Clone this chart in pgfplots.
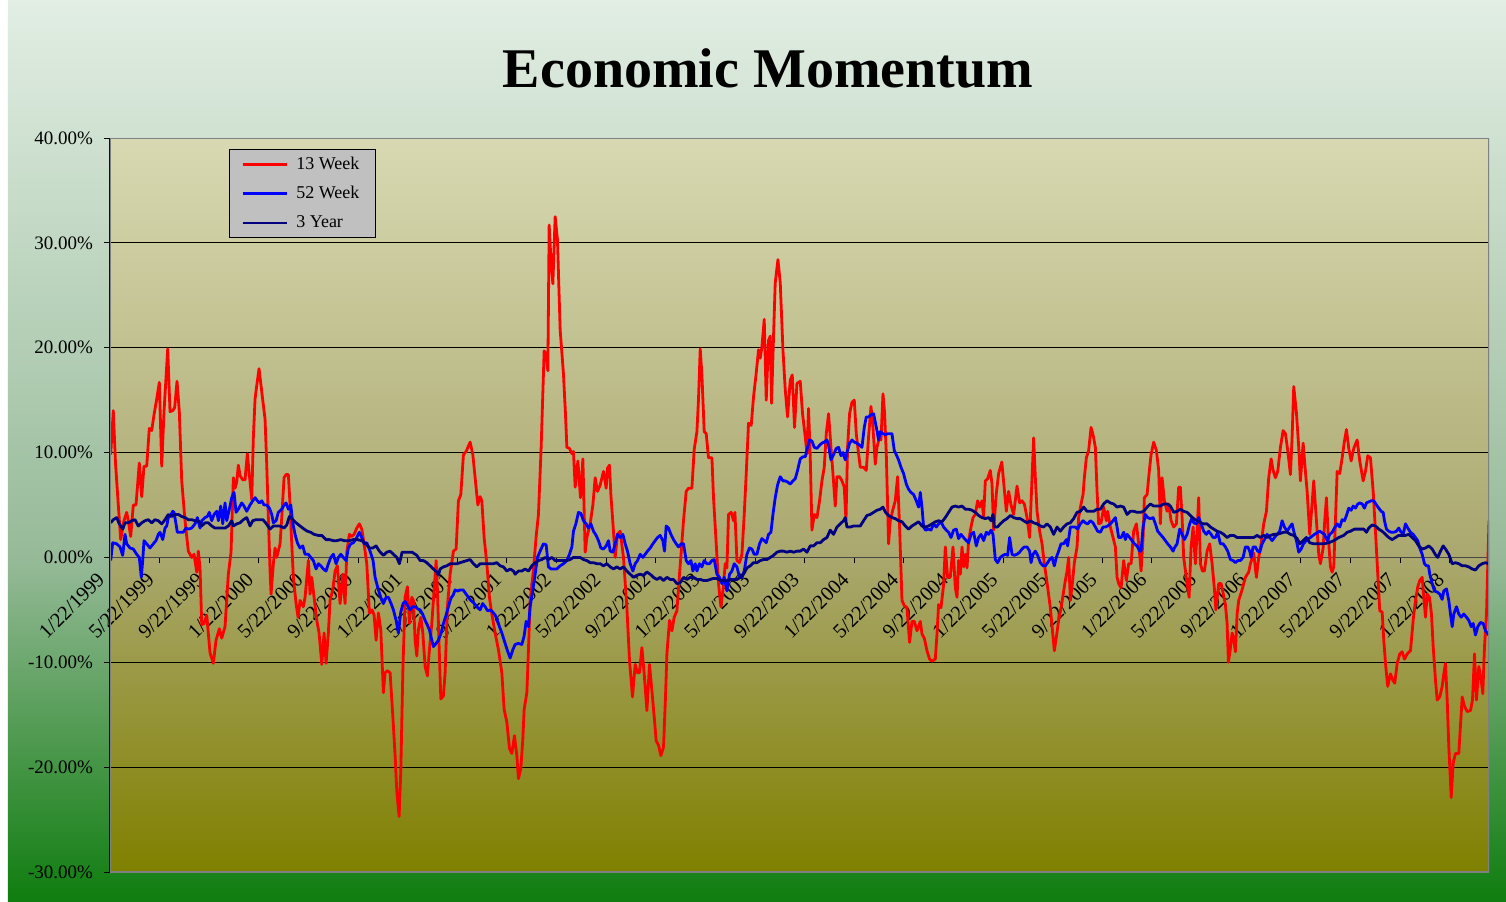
\documentclass[border=0pt]{standalone}
\usepackage{fontspec}
\setmainfont{Liberation Serif}
\usepackage{pgfplots}
\usepackage{pgfplotstable}
\pgfplotsset{compat=1.18}

\definecolor{bgtop}{RGB}{226,238,228}
\definecolor{bgmid}{RGB}{150,186,152}
\definecolor{bgbot}{RGB}{15,125,15}
\definecolor{patop}{RGB}{216,217,178}
\definecolor{pamid}{RGB}{170,168,110}
\definecolor{pabot}{RGB}{128,128,0}
\definecolor{legfill}{RGB}{192,192,192}
\definecolor{navyline}{RGB}{0,0,128}

\pgfdeclareverticalshading{outerbg}{100bp}{color(0bp)=(bgbot); color(25bp)=(bgbot); color(44bp)=(bgmid); color(75bp)=(bgtop); color(100bp)=(bgtop)}
\pgfdeclareverticalshading{plotbg}{100bp}{color(0bp)=(pabot); color(25bp)=(pabot); color(46.5bp)=(pamid); color(75bp)=(patop); color(100bp)=(patop)}

% x = position along the time axis (1/22/1999 = 110, one 4-month step = 49.6)
\pgfplotstableread{
x y
110.7 9.8
113.3 14.0
115.5 9.0
118.3 5.0
120.7 1.7
124 3.5
126.7 4.3
128.3 3.5
130.7 2.0
133.3 5.0
136 5.0
139.3 9.0
141.7 5.8
144 8.7
146.7 8.7
149.3 12.3
151.7 12.1
154 13.6
156.7 15.1
159.3 16.7
161.7 8.7
164 13.9
167.7 19.9
170 13.9
172.7 14.0
174.7 14.3
177 16.8
179.3 13.9
181.7 7.3
185 3.5
188.3 0.6
191.7 0.0
194 0.3
196.7 -1.4
198.3 0.6
200 -1.0
201.7 -6.4
204 -6.3
206.7 -5.5
210 -9.1
213.3 -10.1
216 -7.9
219.3 -6.8
221.7 -7.7
225 -6.6
228.3 -1.6
231 0.5
233.3 7.6
235 6.6
236.7 7.2
238.3 8.8
240 7.8
242.7 7.4
245 7.4
247.3 9.9
249 8.2
251.7 5.5
253.3 11.4
255 15.1
256.7 16.4
259 18.0
261.7 15.8
265 13.2
266.7 8.8
268.3 3.8
270 -1.3
271 -3.5
273.3 -0.6
275 0.9
276.7 0
280 1.3
281.7 3.8
284 7.6
286 7.9
288.3 7.9
290 5.0
291.7 1.3
293.3 -1.9
296 -4.4
298 -5.7
300 -4.1
303.3 -4.7
305 -3.8
308.3 -0.3
310 -3.5
311.7 -1.9
314 -3.8
316.7 -6.0
319 -7.2
321.7 -10.2
324 -7.2
326 -10.1
328.3 -7.2
330 -4.1
332.7 -3.1
335 -1.3
337.3 -0.8
340 -4.4
342.7 -1.6
345 -4.4
346.7 0.5
349.3 2.2
351.7 2.0
354 2.2
356.7 2.8
359.3 3.2
361.7 2.7
364 1.3
366.7 -0.6
369.3 -5.3
372 -5.0
374 -5.5
376 -7.9
378.3 -5.3
380.7 -6.9
383.3 -12.9
385 -11.0
387.3 -10.8
390 -11.0
392.7 -15.1
395 -18.9
396.7 -22.3
399 -24.7
400.7 -20.4
402.7 -11.0
405 -3.8
407.3 -2.8
409.3 -6.3
411.7 -3.8
413.3 -4.1
415 -7.9
416.7 -9.4
418.3 -6.9
420.7 -5.7
422.7 -7.2
425 -10.4
427.3 -11.3
429.3 -8.8
431.7 -6.3
434 -3.1
436 -0.3
437.3 -3.1
439.3 -9.4
440.7 -13.5
443.3 -13.2
445 -11.0
447.3 -4.7
450 -1.6
453.3 0.6
456 0.8
458.3 5.4
460.7 6.0
463.3 9.8
466 10.1
470 11.0
472.7 9.8
475 7.6
477.7 5.0
480 5.8
481.7 5.4
484 1.9
486.7 -0.6
489.3 -3.8
491.7 -5.4
495 -7.2
498.3 -8.8
501.7 -11.0
504 -14.5
506.7 -15.7
509.3 -18.2
511.7 -18.7
514.3 -17.0
516.7 -18.9
518.3 -21.1
520.7 -20.1
522.7 -17.3
524 -14.5
526.7 -12.9
528.3 -8.8
530 -4.1
533 -1.5
536 2.0
538.3 4.1
541 10.5
544 19.7
546 19.4
547.7 17.8
549 31.7
551 28.0
552.7 26.1
555 32.5
557.3 30.3
560 21.7
563.3 17.5
565.3 13.7
566.7 10.5
569.3 10.4
571.7 9.9
573.3 10.1
575 6.7
577.7 9.2
580.3 5.7
582.7 9.4
585 0.5
586.7 1.9
590 3.2
592.7 5.0
595 7.6
597.3 6.3
600 6.9
603.3 8.2
606 6.6
607.3 8.5
609.3 8.8
610.7 6.0
613.3 2.5
615 0.0
617.3 2.2
620 2.5
623.3 0.0
626.7 -4.8
629.3 -9.8
632.3 -13.3
635 -10.2
637.3 -11.0
639.3 -11.0
641.7 -8.6
644 -11.1
646.7 -14.6
649.3 -10.2
651.7 -12.7
654 -15.2
656 -17.5
658.3 -17.9
660.7 -18.9
663.3 -18.1
665.3 -13.3
666.7 -9.2
669.3 -6.0
671.7 -7.0
674 -5.7
676.7 -5.1
679.3 -1.6
681 0.5
683.3 3.5
686 6.3
688.3 6.6
691.7 6.6
694 10.3
696.7 12.0
698.3 15.1
700 19.9
701.7 17.4
704 12.0
706 11.8
708.3 9.5
711.7 9.5
713.3 5.7
716 1.3
718.3 -2.5
720.7 -4.7
722.7 -3.2
725 -0.6
726.7 -1.0
728.3 4.1
731 4.3
733.3 3.5
734.7 4.3
736.7 -0.3
739.3 -0.5
741.7 0.3
744 4.1
746 8.0
748.3 12.8
751 12.6
753.3 15.3
756 17.6
758.3 19.8
760 19.0
761.7 20.1
764 22.7
766 15.0
768.3 20.7
770 21.1
771.3 14.7
773.3 21.1
775 26.2
777.7 28.4
780 26.2
782.7 19.8
785 16.0
787.3 13.4
790 16.9
792 17.4
794.3 12.4
796.7 16.6
800 16.8
802.3 13.7
805 11.5
806.7 9.9
808.3 14.2
810 9.6
811.7 2.6
814 4.1
816.7 3.8
819.3 5.4
821.7 7.3
824 8.6
826 11.8
828.3 13.7
830.7 10.5
832.7 8.0
835 4.9
836.7 7.7
839.3 7.7
841.7 7.3
844 6.7
845.7 3.5
847.3 10.5
849.3 13.7
851.7 14.8
854 15.0
856 11.8
858.3 9.9
860 8.6
863.3 8.6
866 8.3
868.3 11.5
870.7 14.4
872.7 12.4
875 8.9
876.7 10.5
879.3 11.5
880.7 11.2
882.7 15.6
884.3 13.8
886 9.9
888.3 1.3
890 3.5
892.7 4.6
895 5.4
897.3 7.7
899.3 2.9
901.7 -4.1
904 -4.6
906.7 -4.8
909.3 -8.1
911.7 -6.1
914 -6.1
916.7 -7.0
920 -6.1
921.7 -7.3
924 -7.7
926.7 -8.9
929.3 -9.7
931.7 -9.9
935 -9.7
936.7 -7.3
938.3 -4.5
940.7 -4.8
943.3 -2.6
945 1.0
947.3 -1.9
950 -1.9
952.7 1.0
955 -2.9
956.7 -3.8
958.3 -0.3
960 -1.6
961.7 1.0
963.3 -0.9
965 0.3
966.7 -1.0
968.3 1.6
970.7 2.9
972.7 3.8
975 4.1
977.3 5.4
979.3 4.8
981.7 5.4
983.3 3.8
985 7.3
987.3 7.5
990 8.3
991.7 7.0
993.3 2.6
996 6.1
998.3 8.0
1001.5 9.1
1006 4.4
1008.3 6.3
1010.7 5.0
1013.3 4.1
1016.7 6.8
1019.3 5.2
1021.7 5.4
1024 5.1
1026.7 3.8
1029.3 1.9
1031.7 7.6
1033.3 11.4
1035 7.6
1036.7 4.4
1039.3 2.5
1041.7 1.3
1044 -0.6
1046.7 -2.4
1050 -4.8
1052.7 -7.6
1054 -8.9
1056.3 -7.4
1058.3 -6.0
1060.7 -4.8
1062.7 -3.6
1065 -2.2
1066.7 -1.3
1068.3 0.0
1070 -4.1
1072 -2.5
1074 -0.5
1076.7 1.0
1078.3 3.8
1080.7 5.1
1082.7 6.0
1084 7.6
1086 9.5
1088.3 10.2
1090.7 12.4
1092.7 11.7
1095 10.5
1096.7 6.3
1098.3 3.2
1100.7 3.3
1103.3 4.8
1106 3.5
1107.3 4.4
1110 2.9
1112.7 1.9
1115 1.0
1116.7 -1.9
1118.3 -2.5
1120.7 -2.9
1123.3 -0.3
1126 -2.2
1128.3 -0.6
1130.7 -0.6
1133.3 2.5
1136 3.2
1138.3 1.3
1140.7 -1.3
1142.7 1.9
1144 5.7
1146.7 6.0
1149 8.3
1150.7 9.8
1153.3 11.0
1156 10.2
1158.3 8.3
1160 3.2
1161.7 7.6
1164 5.4
1166.7 4.4
1168.3 5.1
1170.7 3.5
1173.3 2.9
1176 3.2
1178.3 6.7
1180 6.7
1181.7 3.8
1183.3 0.0
1186 -2.0
1188.7 -3.8
1190.7 1.0
1192.7 2.9
1195 -0.6
1196.7 2.5
1198.3 5.7
1200 -0.6
1202 -1.3
1204 -1.3
1206.7 0.6
1209.3 1.3
1211.7 -0.6
1214 -3.0
1215.5 -5.0
1218.3 -2.5
1220.7 -2.5
1222.7 -3.4
1225 -4.5
1226.7 -6.3
1228 -10.0
1229.7 -8.9
1231.7 -7.2
1233.3 -7.8
1235 -9.0
1236.7 -5.4
1238.3 -4.1
1241 -3.3
1243.3 -2.5
1245 -1.9
1248.3 -1.4
1250 -0.6
1253.3 0.4
1256 -1.9
1258.3 0.0
1260.7 1.3
1263.3 3.2
1266 4.4
1268.3 7.6
1270.7 9.4
1272.7 8.3
1275 7.6
1277.3 8.2
1280 10.5
1282.7 12.1
1285 11.8
1287.3 10.2
1290 7.9
1291.7 11.5
1293.3 16.3
1296 13.8
1298.3 10.5
1300 7.3
1302.7 10.9
1304.7 8.5
1306.7 6.3
1309.3 2.2
1311.3 4.7
1313.3 7.3
1316 3.5
1318.3 0.3
1320 -0.6
1322.7 0.9
1324.3 3.5
1326 5.7
1327.7 2.2
1330 -0.9
1331.7 -1.4
1333.3 -0.9
1335 3.5
1336.7 8.2
1339.3 8.0
1341.7 9.5
1344 11.1
1346 12.2
1348.3 10.4
1350.7 9.2
1353.3 10.4
1356.7 11.2
1359.3 9.2
1362.7 7.3
1365 8.2
1367.3 9.7
1370 9.5
1372.7 6.3
1375 2.5
1377.3 -1.6
1379.3 -5.1
1381.7 -5.2
1383.3 -7.9
1385.3 -10.4
1387.3 -12.3
1390 -11.1
1392.3 -11.7
1394.3 -12.0
1396.7 -10.1
1399.3 -9.2
1401.7 -9.0
1404 -9.7
1406.7 -9.2
1410 -8.9
1412.7 -6.0
1415 -4.1
1417.3 -2.8
1419.3 -2.2
1421.7 -1.9
1423.3 -3.8
1425 -5.7
1426.7 -3.5
1429 -3.8
1431 -5.4
1432.7 -8.5
1435 -11.7
1436.7 -13.6
1439.3 -13.3
1441.7 -12.3
1443.3 -11.1
1445 -10.1
1446.7 -13.6
1448.3 -18.0
1450.7 -22.9
1452.7 -19.6
1455 -18.7
1458.3 -18.7
1461.7 -13.3
1464 -14.2
1466.7 -14.7
1470 -14.6
1472 -13.6
1474 -9.2
1476 -13.6
1478.3 -10.4
1480.7 -11.7
1482.3 -13.0
1484 -8.5
1486 -5.4
1487.3 -0.6
1488.5 3.5
}\redtab

\pgfplotstableread{
x y
110.7 -0.3
112.7 1.4
116.7 1.3
120 1.0
122.7 0.2
125 2.2
126.7 1.3
130 0.9
133.3 0.8
136.7 0.3
139.3 0.0
141.3 -1.9
142.7 -0.3
144 1.6
146.7 1.3
150 0.9
153.3 1.3
156 1.6
158.3 2.2
160 2.4
162.7 1.7
165 2.8
166.7 3.0
168.3 3.8
170.7 4.0
172.7 4.4
174 4.3
176 3.2
177.3 2.4
180 2.4
183.3 2.4
186 2.8
188.3 2.7
191.7 2.8
195 3.2
197.3 3.8
200 2.8
201.7 3.5
205 3.8
207.3 3.9
209.3 4.3
211.7 3.5
214 4.1
216.7 4.4
218.3 3.5
220.7 4.9
222.7 3.2
225 5.2
226.7 3.5
230 4.9
231.7 5.7
234 6.2
236 4.3
238.3 4.6
241.7 5.2
244 4.9
246.7 4.4
250 5.0
252.7 5.4
255 5.7
257.3 5.4
259.3 5.2
261.7 5.4
264 5.0
266.7 5.0
269.3 4.7
271.7 4.1
273.3 3.3
276 3.5
278.3 4.3
281.7 4.6
284 5.0
286 5.2
288.3 4.6
290.7 5.0
292.7 3.3
295 2.2
297.3 1.4
300 0.9
302.7 1.1
305 0.3
308.3 0.3
310.7 0.0
313.3 -0.3
316 -1.1
318.3 -0.6
320.7 -0.8
323.3 -1.1
326 -1.3
328.3 -0.6
330.7 0.0
333.3 0.3
336 -0.6
338.3 0.0
340.7 0.3
343.3 0.0
346 -0.3
348.3 0.9
350.7 1.3
353.3 1.4
356.7 1.9
359.3 2.4
361.7 1.9
364 1.3
366.7 1.4
370 0.6
373 -0.3
375 -1.9
378.3 -3.1
381.7 -4.1
383.3 -4.4
386 -3.8
388.3 -3.8
391 -4.4
393.3 -5.0
396 -6.0
398.3 -7.2
400.7 -5.2
403 -4.4
405 -4.2
407.5 -4.6
410 -5.0
412.5 -4.7
415 -4.7
417.5 -4.9
420 -5.0
422.5 -5.4
425 -6.0
427.5 -6.5
429.3 -6.9
431.7 -7.9
433.3 -8.5
436 -8.2
438.3 -7.9
441 -7.2
443.3 -6.3
446 -5.5
448.3 -4.7
450.7 -3.9
453 -3.6
455 -3.1
457.5 -3.2
460 -3.1
463 -3.1
466 -3.5
468.3 -3.8
470.7 -4.1
473.3 -4.3
476.7 -4.7
480 -5.0
482.5 -4.4
485 -4.7
487.5 -5.1
490 -5.0
492.5 -5.2
495 -5.5
497.3 -6.0
499.3 -6.6
501.7 -7.2
504 -7.9
507 -8.8
510 -9.6
512.7 -8.8
515 -8.3
518.3 -8.2
521.7 -8.3
524 -7.5
526 -6.1
528.3 -6.6
530 -4.7
532.7 -3.1
535 -1.6
537.3 0.0
540 0.6
543.3 1.3
546 1.2
548.3 -0.9
551 -1.1
554 -1.1
556.7 -1.1
560 -0.8
563.3 -0.6
566.7 -0.3
569.3 0.3
571.7 1.0
573.3 2.5
575.7 3.2
578.3 4.3
580.7 4.2
583.3 3.5
586 3.2
588.3 2.8
590.7 3.2
593.3 2.5
596 2.1
598.3 1.6
600.7 0.9
603.3 0.8
606 1.1
608.3 1.6
610 0.6
612.7 0.5
615 1.3
617.3 2.2
620 1.9
622.7 2.2
625 1.3
627.3 0.6
630 -0.6
632.7 -1.3
635 -0.6
637.3 -0.3
640 0.3
642.7 0.0
645 0.3
647.3 0.6
650 0.9
652.7 1.3
655 1.6
657.3 1.9
660 2.1
662.7 1.6
664.3 0.6
666 3.0
668.3 2.8
670.7 2.2
673.3 1.7
676 1.3
678.3 1.0
681 1.3
683.3 1.3
686 -0.3
688.3 -0.6
690.7 -0.3
692.7 -1.3
695 -0.6
696.7 -1.3
699.3 -0.6
701.7 -0.9
704 -0.3
706.7 -0.6
709.3 -0.6
711.7 -0.3
714 -0.2
716.7 -1.6
719.3 -1.9
721.7 -2.5
724 -1.9
726.7 -3.2
729.3 -1.6
731.7 -1.3
734 -0.6
736.7 -0.9
739.3 -1.9
741.7 -1.9
744 -1.3
746.7 0.3
749.3 0.9
751.7 0.8
754 0.3
756.7 0.3
759.3 1.3
761.7 1.8
764 1.6
766 1.4
768.3 2.2
770.7 2.4
772.7 4.1
775 5.7
777.3 6.9
780 7.7
782.7 7.3
785 7.3
787.3 7.2
790 7.0
792.7 7.3
795 7.5
797.3 8.3
800 9.4
802.7 9.6
805 9.6
807.3 10.5
809.3 11.2
811.7 11.1
814 10.5
816.7 10.4
819.3 10.7
821.7 10.9
824 11.0
826.7 11.2
828.3 10.7
830.7 9.3
833.3 9.8
836 10.4
838.3 10.5
840.7 9.7
842.7 10.0
845 9.3
846.7 10.0
849.3 10.9
851.7 11.2
854 11.0
856.7 10.9
859.3 10.7
861.7 10.5
864 12.4
866 13.4
868.3 13.4
870.7 13.6
873.3 13.7
875 12.9
876.7 12.1
878.3 11.2
880 12.0
882.7 11.8
885 11.7
887.3 11.8
890 11.8
891.7 11.8
894 10.2
896 9.8
898.3 9.3
900.7 8.6
903.3 8.0
906 7.0
908.3 6.5
910.7 6.2
913.3 6.0
916 5.4
918.3 4.8
920 6.2
921.7 4.8
923.3 2.9
925.3 2.6
928.3 2.7
930.7 2.6
933.3 3.2
936 2.9
938.3 3.2
940.7 3.4
943.3 2.9
946 2.6
948.3 2.4
950.7 1.9
953.3 2.6
956 2.7
958.3 1.8
960.7 2.2
963.3 1.9
966 1.6
968.3 1.4
970.7 2.2
973.3 2.4
976 1.1
978.3 1.9
980.7 2.2
983.3 1.6
986 2.4
988.3 2.2
990.7 2.6
992.7 2.2
995 -0.2
997.3 -0.5
1000 0.0
1002.7 0.2
1005 0.3
1007.3 0.2
1009.3 1.9
1011.7 0.3
1014 0.2
1016.7 0.3
1019.3 0.5
1021.7 0.8
1024 1.0
1026.7 1.0
1029.3 0.6
1030.7 -0.5
1032.7 0.3
1035 0.6
1037.3 0.2
1040 -0.5
1042.7 -0.8
1045 -0.8
1047.3 -0.5
1049.3 -0.2
1051.7 0.0
1054 -0.8
1056 0.0
1058.3 0.6
1060.7 1.3
1063.3 1.3
1066 1.7
1067.3 1.1
1070 2.9
1072.7 2.9
1075 2.9
1077.3 2.7
1080 3.2
1082.7 3.5
1085 3.3
1087.3 3.2
1090 3.5
1092.7 3.3
1095 2.9
1097.3 2.5
1100 2.4
1102.7 2.9
1105 2.9
1107.3 3.0
1110 3.2
1112.7 3.5
1115 3.8
1116.7 2.9
1118.3 1.9
1120.7 1.9
1123.3 2.4
1125 1.7
1126.7 2.2
1129.3 1.9
1131.7 1.6
1134 1.3
1136.7 1.1
1139.3 0.6
1140.7 0.6
1142.7 2.9
1145 4.1
1147.3 3.8
1150 3.7
1152.7 3.8
1155 3.2
1157.3 2.5
1160 2.2
1162.7 1.9
1165 1.6
1167.3 1.3
1170 1.0
1172.7 0.6
1174 0.9
1176.7 1.3
1179.3 2.7
1181.7 2.2
1184 1.7
1186.7 2.2
1189.3 3.2
1191.7 3.8
1193.3 3.3
1196 3.2
1198.3 3.8
1200.7 3.2
1203.3 2.5
1206 2.2
1208.3 2.5
1210.7 2.2
1212.7 1.9
1215 1.9
1217.3 2.4
1220 1.3
1222.7 1.3
1225 1.0
1227.3 0.6
1230 -0.2
1232.7 -0.3
1235 -0.5
1237.3 -0.3
1240 -0.3
1242.7 0.0
1245 1.0
1247.3 1.0
1249.3 0.6
1250.7 0.0
1252.7 1.0
1255 1.0
1257.3 0.6
1259.3 0.5
1261.7 1.3
1264 1.7
1266.7 2.2
1269.3 1.9
1271.7 1.6
1274 1.9
1276.7 2.2
1279.3 2.5
1281.7 3.5
1284 2.9
1286.7 2.5
1289.3 2.9
1291.7 3.2
1293.3 2.5
1296 1.6
1298.3 0.5
1300.7 0.8
1303 1.3
1306.7 1.7
1310 1.9
1314 2.2
1319.3 2.5
1324 2.2
1326.7 1.6
1329.3 2.2
1331.7 2.4
1334 2.8
1336.7 3.2
1339.3 2.9
1341.7 3.6
1344 3.5
1346 4.0
1348.3 4.7
1350.7 4.5
1352.7 4.9
1355 4.7
1357.3 5.1
1359.3 5.2
1361.7 5.1
1364 4.7
1366 5.2
1368.3 5.3
1370.7 5.4
1373.3 5.4
1376 5.0
1378.3 4.7
1380.7 4.4
1382.7 4.3
1384 3.5
1386 2.7
1388.3 2.5
1390.7 2.4
1393.3 2.4
1396 2.5
1398.3 2.8
1400 2.5
1402.7 2.2
1405 3.2
1407.3 2.8
1410 2.4
1412.7 2.2
1415 1.9
1417.3 1.6
1419.3 0.9
1421.7 0.3
1424 -0.6
1426 -0.8
1428 -0.8
1429.3 -1.6
1431.7 -2.5
1434 -3.2
1436.7 -3.3
1439.3 -3.5
1441.7 -4.0
1443.3 -3.2
1446 -3.0
1448.3 -4.1
1450 -5.4
1451.7 -6.6
1453.3 -5.4
1456 -4.7
1458.3 -5.4
1460.7 -5.7
1463.3 -5.4
1466 -5.7
1468.3 -6.0
1470.7 -6.6
1472.7 -6.3
1475 -7.4
1477.3 -6.6
1480 -6.2
1482.7 -6.3
1485 -7.0
1488.3 -7.4
}\bluetab

\pgfplotstableread{
x y
110.7 3.3
113.3 3.6
116.7 3.8
119.3 3.2
122.7 2.7
125 3.3
128.3 3.3
131.7 3.5
135 3.6
138.3 3.0
141.7 3.3
145 3.5
148.3 3.6
151.7 3.3
155 3.6
158.3 3.5
161.7 3.2
165 3.6
168.3 4.1
171.7 3.9
175 4.1
178.3 4.1
181.7 3.9
185 3.8
188.3 3.6
191.7 3.6
195 3.5
198.3 3.5
201.7 3.0
205 3.3
208.3 3.3
211.7 3.0
215 2.8
218.3 2.8
221.7 2.8
225 2.8
228.3 3.0
231.7 3.5
233.3 3.0
236.7 3.2
240 3.3
243.3 3.6
246.7 3.8
250 3.0
252.7 3.5
256 3.6
259.3 3.6
262.7 3.6
265.7 3.3
270 2.7
273.3 3.0
276.7 3.0
280 3.0
284 2.8
286.7 3.1
289.3 3.9
292.7 3.6
296 3.3
300 3.0
304 2.7
307.3 2.5
310.7 2.4
314 2.2
318.3 2.1
321.7 2.1
326 1.7
329.3 1.7
333.3 1.6
336.7 1.6
340.7 1.7
344.3 1.6
349.3 1.6
353.3 1.7
357.3 1.7
361.7 1.6
366 1.3
369.3 0.9
372.7 0.9
376 1.1
379.3 0.6
383.3 0.2
386.7 0.5
390 0.6
393.3 0.3
396.7 0.0
399.3 -0.6
402 0.5
404 0.5
408.3 0.5
412 0.5
416.7 0.2
420 -0.3
423.3 -0.3
426.7 -0.5
430 -0.8
433.3 -1.1
436.7 -1.4
438.3 -1.7
440 -1.1
443.3 -0.9
446.7 -0.8
450 -0.6
456.7 -0.6
460 -0.5
466.7 -0.3
470 -0.2
473.3 -0.6
476.7 -0.9
480 -0.6
483.3 -0.6
490 -0.6
493.3 -0.6
496.7 -0.5
500 -0.8
503.3 -0.9
506.7 -1.3
510 -1.1
513.3 -1.3
515 -1.6
518.3 -1.3
521.7 -1.3
525 -1.1
528.3 -1.3
531.7 -0.8
535 -0.5
538.3 -0.3
541.7 -0.2
545 0.0
548.3 -0.2
551.7 0.0
555 -0.3
560 -0.3
566.7 -0.3
570 -0.2
573.3 0.0
576.7 0.0
580 0.0
583.3 -0.2
586.7 -0.3
590 -0.5
593.3 -0.5
596.7 -0.6
600 -0.6
603.3 -0.8
606.7 -0.6
610 -0.9
613.3 -1.1
616.7 -0.9
620 -1.1
623.3 -0.9
626.7 -1.3
630 -1.6
633.3 -1.9
636.7 -1.7
640 -1.6
643.3 -1.7
646.7 -1.4
650 -1.6
653.3 -1.9
656.7 -2.1
660 -1.9
663.3 -2.2
666.7 -1.9
670 -2.1
673.3 -2.1
676.7 -2.5
680 -2.4
683.3 -1.9
686.7 -2.1
690 -1.9
693.3 -1.9
696.7 -2.1
700 -2.1
703.3 -2.2
706.7 -2.2
710 -2.1
713.3 -2.0
716.7 -2.0
720 -2.2
723.3 -2.2
726.7 -2.2
730 -2.1
733.3 -2.1
736.7 -2.1
740 -1.9
743.3 -1.6
746.7 -1.0
750 -0.8
753.3 -0.5
756.7 -0.5
760 -0.3
763.3 -0.2
766.7 -0.2
770 0.0
773.3 0.2
776.7 0.5
780 0.6
783.3 0.6
786.7 0.5
790 0.6
793.3 0.5
796.7 0.6
800 0.6
803.3 0.8
806.7 0.5
810 1.1
813.3 1.1
816.7 1.4
820 1.4
823.3 1.7
826.7 1.9
830 2.6
833.3 2.2
836.7 2.9
840 3.2
843.3 3.5
845 3.8
846.7 2.9
850 2.9
853.3 3.0
856.7 3.0
860 3.0
863.3 3.5
866.7 4.0
870 4.1
873.3 4.3
876.7 4.5
880 4.6
882.7 4.8
885.3 4.3
888.3 4.0
891.7 3.8
895 3.7
898.3 3.5
901.7 3.4
905 3.0
908.3 2.7
911.7 3.0
915 3.2
918.3 3.4
921.7 3.0
925 2.9
928.3 3.0
931.7 3.2
935 3.4
938.3 3.5
941.7 3.4
945 3.8
948.3 4.3
951.7 4.8
955 4.9
958.3 4.8
961.7 4.9
965 4.6
968.3 4.6
971.7 4.5
975 4.3
978.3 4.0
981.7 3.8
985 3.7
988.3 3.8
990.7 3.5
992.7 4.1
994 2.9
997 2.9
1000 3.2
1003.3 3.5
1006.7 3.7
1010 4.0
1013.3 3.8
1016.7 3.7
1020 3.7
1023.3 3.5
1026.7 3.3
1030 3.5
1033.3 3.3
1036.7 3.2
1040 3.0
1043.3 2.9
1046.7 3.2
1050 2.9
1053.3 2.2
1056.7 2.9
1060 2.5
1063.3 2.9
1066.7 3.2
1070 3.3
1073.3 3.7
1076.7 4.3
1080 4.4
1083.3 4.8
1086.7 4.4
1090 4.4
1093.3 4.4
1096.7 4.6
1100 4.6
1103.3 5.1
1106.7 5.4
1110 5.2
1113.3 5.1
1116.7 4.8
1120 4.9
1123.3 4.8
1126.7 4.1
1130 4.4
1133.3 4.4
1136.7 4.3
1140 4.3
1143.3 4.4
1146.7 4.8
1150 5.1
1153.3 4.9
1156.7 4.9
1160 4.9
1163.3 5.1
1166.7 5.1
1170 4.9
1173.3 4.3
1176.7 4.4
1180 4.6
1183.3 4.4
1186.7 4.3
1190 4.0
1193.3 3.7
1196.7 3.5
1200 3.3
1203.3 3.2
1206.7 3.2
1210 2.9
1213.3 2.7
1216.7 2.5
1220 2.4
1223.3 2.2
1226.7 1.9
1230 2.1
1233.3 2.1
1236.7 1.9
1240 1.9
1243.3 1.9
1246.7 1.9
1250 1.9
1253.3 1.9
1256.7 2.1
1260 1.9
1263.3 2.1
1266.7 1.9
1270 2.1
1273.3 2.2
1276.7 2.2
1280 2.3
1283.3 2.4
1286.7 2.4
1290 2.2
1293.3 2.1
1296.7 1.8
1299.3 1.3
1302.7 1.6
1306 1.9
1309.3 1.4
1313.3 1.3
1318.3 1.3
1323.3 1.3
1328.3 1.4
1333.3 1.6
1338.3 1.9
1343.3 2.1
1346.7 2.4
1350 2.5
1354 2.7
1358.3 2.7
1363.3 2.7
1366 2.4
1368.3 2.8
1371.7 3.1
1375 3.0
1378.3 2.7
1381.7 2.5
1385 2.2
1388.3 1.9
1391.7 1.7
1395 1.9
1398.3 2.1
1401.7 2.1
1405 2.1
1408.3 2.2
1411.7 1.9
1415 1.6
1418.3 1.1
1421.7 0.8
1425 0.9
1428.3 1.1
1431.7 0.8
1434.7 0.3
1437.3 0.0
1440 0.6
1442.7 1.1
1445 0.8
1448.3 0.3
1451.7 -0.6
1455 -0.5
1458.3 -0.6
1461.7 -0.8
1465 -0.8
1468.3 -0.9
1471.7 -1.1
1475 -1.2
1478.3 -0.8
1481.7 -0.6
1485 -0.5
1488.3 -0.6
}\navytab

\begin{document}
\begin{tikzpicture}
\fill[white] (-55pt,-14.5pt) rectangle (698pt,436pt);
\shade[shading=outerbg] (-51pt,-14.5pt) rectangle (698pt,436pt);
\node[font=\fontsize{28}{32}\selectfont\bfseries] at (329pt,402pt) {Economic Momentum};
\begin{axis}[
  at={(0pt,0pt)}, anchor=south west,
  scale only axis, width=689.5pt, height=367pt,
  xmin=110, xmax=1488.5, ymin=-30, ymax=40,
  enlargelimits=false,
  axis x line*=middle, axis y line*=left,
  hide obscured x ticks=false, hide obscured y ticks=false,
  axis background/.style={shade, shading=plotbg},
  x axis line style={draw={rgb,255:red,70;green,70;blue,70}, line width=0.8pt},
  y axis line style={draw=black, line width=0.6pt},
  ytick={-30,-20,-10,0,10,20,30,40},
  yticklabels={-30.00\%,-20.00\%,-10.00\%,0.00\%,10.00\%,20.00\%,30.00\%,40.00\%},
  xtick={110,159.6,209.2,258.8,308.4,358,407.6,457.2,506.8,556.4,606,655.6,705.2,754.8,804.4,854,903.6,953.2,1002.8,1052.4,1102,1151.6,1201.2,1250.8,1300.4,1350,1399.6,1449.2},
  xticklabels={1/22/1999,5/22/1999,9/22/1999,1/22/2000,5/22/2000,9/22/2000,1/22/2001,5/22/2001,9/22/2001,1/22/2002,5/22/2002,9/22/2002,1/22/2003,5/22/2003,9/22/2003,1/22/2004,5/22/2004,9/22/2004,1/22/2005,5/22/2005,9/22/2005,1/22/2006,5/22/2006,9/22/2006,1/22/2007,5/22/2007,9/22/2007,1/22/2008},
  tick label style={font=\fontsize{9.5}{11}\selectfont, text=black},
  xticklabel style={font=\fontsize{10.2}{12}\selectfont, xshift=-2pt, yshift=-4pt, rotate=45, anchor=east},
  yticklabel style={xshift=-2pt},
  tick align=outside, major tick length=3pt,
  tick style={black, line width=0.5pt},
  ymajorgrids, grid style={black, line width=0.5pt},
  legend style={at={(axis description cs:0.0863,0.985)}, anchor=north west,
    fill=legfill, draw=black, line width=0.5pt,
    font=\fontsize{9}{10}\selectfont, inner xsep=6pt, inner ysep=1.5pt,
    row sep=3pt, column sep=2pt, cells={anchor=west}},
  legend image code/.code={\draw[#1] (0pt,0pt) -- (22pt,0pt);},
  every axis plot/.append style={line width=1.4pt, line join=round, no markers},
]
\addplot[red] table[x=x, y=y] {\redtab};
\addlegendentry{13 Week}
\addplot[blue] table[x=x, y=y] {\bluetab};
\addlegendentry{52 Week}
\addplot[navyline] table[x=x, y=y] {\navytab};
\addlegendentry{3 Year}
\draw[gray, line width=0.6pt] (rel axis cs:0,0) rectangle (rel axis cs:1,1);
\end{axis}
\end{tikzpicture}
\end{document}
